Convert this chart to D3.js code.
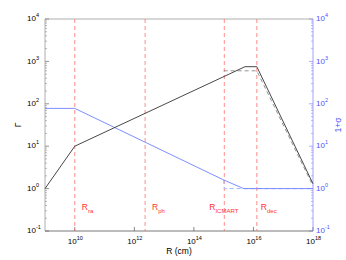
<!DOCTYPE html>
<html>
<head>
<meta charset="utf-8">
<script src="https://cdn.jsdelivr.net/npm/d3@7"></script>
<style>
  body { margin: 0; background: #fff; }
  text { font-family: "Liberation Sans", Arial, sans-serif; }
</style>
</head>
<body>
<svg id="chart" width="346" height="260"></svg>
<script>
const W = 346, H = 260;
const margin = { top: 19, right: 33, bottom: 29, left: 45 };

// Lorentz factor, solid and dashed
const gammaSolid = [[1e9, 1], [1e10, 10], [5.2e15, 750], [1.3e16, 750], [1e18, 1.3]];
const gammaDashed = [[1e15, 600], [1.3e16, 600], [1e18, 1.15]];
// magnetization 1+sigma, solid and dashed
const sigmaSolid = [[1e9, 78], [1e10, 78], [1e15, 1.6], [4.7e15, 1], [1e18, 1]];
const sigmaDashed = [[1e15, 1.6], [1.05e15, 1], [1e18, 1]];
// characteristic radii
const radii = [
  { name: 'R', sub: 'ra', r: 1e10 },
  { name: 'R', sub: 'ph', r: 2.3e12 },
  { name: 'R', sub: 'ICMART', r: 1.05e15 },
  { name: 'R', sub: 'dec', r: 1.3e16 }
];
const xTickExp = [10, 12, 14, 16, 18];
const yTickExp = [-1, 0, 1, 2, 3, 4];

const svg = d3.select('#chart');
const x = d3.scaleLog().domain([1e9, 1e18]).range([margin.left, W - margin.right]);
const y = d3.scaleLog().domain([1e-1, 1e4]).range([H - margin.bottom, margin.top]);

const x0 = margin.left, x1 = W - margin.right, y0 = H - margin.bottom, y1 = margin.top;

// minor ticks for log axes
const minor = [];
for (let e = -1; e < 4; e++) for (let m = 2; m <= 9; m++) minor.push(m * Math.pow(10, e));

const supLabel = (sel, e, dy) => {
  sel.text('10');
  sel.append('tspan').attr('dy', dy).attr('font-size', 5.5).text(e);
};

// left axis
const left = svg.append('g');
left.selectAll('.mn').data(minor).join('line')
  .attr('x1', x0).attr('x2', x0 + 2)
  .attr('y1', d => y(d)).attr('y2', d => y(d))
  .attr('stroke', '#888').attr('stroke-width', 0.6);
left.selectAll('.mj').data(yTickExp).join('line')
  .attr('x1', x0).attr('x2', x0 + 4)
  .attr('y1', d => y(Math.pow(10, d))).attr('y2', d => y(Math.pow(10, d)))
  .attr('stroke', '#666').attr('stroke-width', 0.7);
left.selectAll('text').data(yTickExp).join('text')
  .attr('x', x0 - 18).attr('y', d => y(Math.pow(10, d)) + 2.2)
  .attr('font-size', 8).attr('fill', '#000')
  .each(function (d) { supLabel(d3.select(this), d, -4); });

// right axis
const right = svg.append('g');
right.selectAll('.mn').data(minor).join('line')
  .attr('x1', x1).attr('x2', x1 - 2)
  .attr('y1', d => y(d)).attr('y2', d => y(d))
  .attr('stroke', '#8c8cff').attr('stroke-width', 0.6);
right.selectAll('.mj').data(yTickExp).join('line')
  .attr('x1', x1).attr('x2', x1 - 4)
  .attr('y1', d => y(Math.pow(10, d))).attr('y2', d => y(Math.pow(10, d)))
  .attr('stroke', '#8c8cff').attr('stroke-width', 0.7);
right.selectAll('text').data(yTickExp).join('text')
  .attr('x', x1 + 3).attr('y', d => y(Math.pow(10, d)) + 2.2)
  .attr('font-size', 8).attr('fill', '#5050ff')
  .each(function (d) { supLabel(d3.select(this), d, -4); });

// bottom axis
const bottom = svg.append('g');
bottom.selectAll('line').data(xTickExp).join('line')
  .attr('x1', d => x(Math.pow(10, d))).attr('x2', d => x(Math.pow(10, d)))
  .attr('y1', y0).attr('y2', y0 - 4)
  .attr('stroke', '#555').attr('stroke-width', 0.7);
bottom.selectAll('text').data(xTickExp).join('text')
  .attr('x', d => x(Math.pow(10, d)) - 7).attr('y', y0 + 12.5)
  .attr('font-size', 8).attr('fill', '#000')
  .each(function (d) { supLabel(d3.select(this), d, -3.2); });

// frame
svg.append('line').attr('x1', x0).attr('x2', x1).attr('y1', y1).attr('y2', y1)
  .attr('stroke', '#999').attr('stroke-width', 0.8);
svg.append('line').attr('x1', x0).attr('x2', x1).attr('y1', y0).attr('y2', y0)
  .attr('stroke', '#555').attr('stroke-width', 0.8);
svg.append('line').attr('x1', x0).attr('x2', x0).attr('y1', y1).attr('y2', y0)
  .attr('stroke', '#999').attr('stroke-width', 0.8);
svg.append('line').attr('x1', x1).attr('x2', x1).attr('y1', y1).attr('y2', y0)
  .attr('stroke', '#8c8cff').attr('stroke-width', 0.8);

// radii markers
svg.selectAll('.rad').data(radii).join('line')
  .attr('x1', d => x(d.r)).attr('x2', d => x(d.r))
  .attr('y1', y1).attr('y2', y0)
  .attr('stroke', '#ff7070').attr('stroke-width', 0.8)
  .attr('stroke-dasharray', '4,3');
// ICMART label sits across its line, the others just right of theirs
svg.selectAll('.radlab').data(radii).join('text')
  .attr('x', d => x(d.r) + (d.sub === 'ICMART' ? -15 : d.sub === 'dec' ? 4 : 7))
  .attr('y', 210)
  .attr('font-size', 8.5).attr('fill', '#ff3030')
  .each(function (d) {
    d3.select(this).text(d.name);
    d3.select(this).append('tspan').attr('dy', 3).attr('font-size', 6).text(d.sub);
  });

const line = d3.line().x(d => x(d[0])).y(d => y(d[1]));

svg.append('path').datum(sigmaDashed).attr('d', line)
  .attr('fill', 'none').attr('stroke', '#a8b8ff').attr('stroke-width', 1)
  .attr('stroke-dasharray', '4,3');
svg.append('path').datum(sigmaSolid).attr('d', line)
  .attr('fill', 'none').attr('stroke', '#6d82ff').attr('stroke-width', 0.9);
svg.append('path').datum(gammaDashed).attr('d', line)
  .attr('fill', 'none').attr('stroke', '#888').attr('stroke-width', 0.9)
  .attr('stroke-dasharray', '4,3');
svg.append('path').datum(gammaSolid).attr('d', line)
  .attr('fill', 'none').attr('stroke', '#333').attr('stroke-width', 0.9);

// axis titles
svg.append('text').attr('x', (x0 + x1) / 2).attr('y', 254)
  .attr('text-anchor', 'middle').attr('font-size', 8.5).text('R (cm)');
svg.append('text').attr('transform', `translate(21,${(y0 + y1) / 2}) rotate(-90)`)
  .attr('text-anchor', 'middle').attr('font-size', 8.5).text('Γ');
svg.append('text').attr('transform', `translate(341,${(y0 + y1) / 2}) rotate(-90)`)
  .attr('text-anchor', 'middle').attr('font-size', 8.5).attr('fill', '#5050ff').text('1+σ');
</script>
</body>
</html>
